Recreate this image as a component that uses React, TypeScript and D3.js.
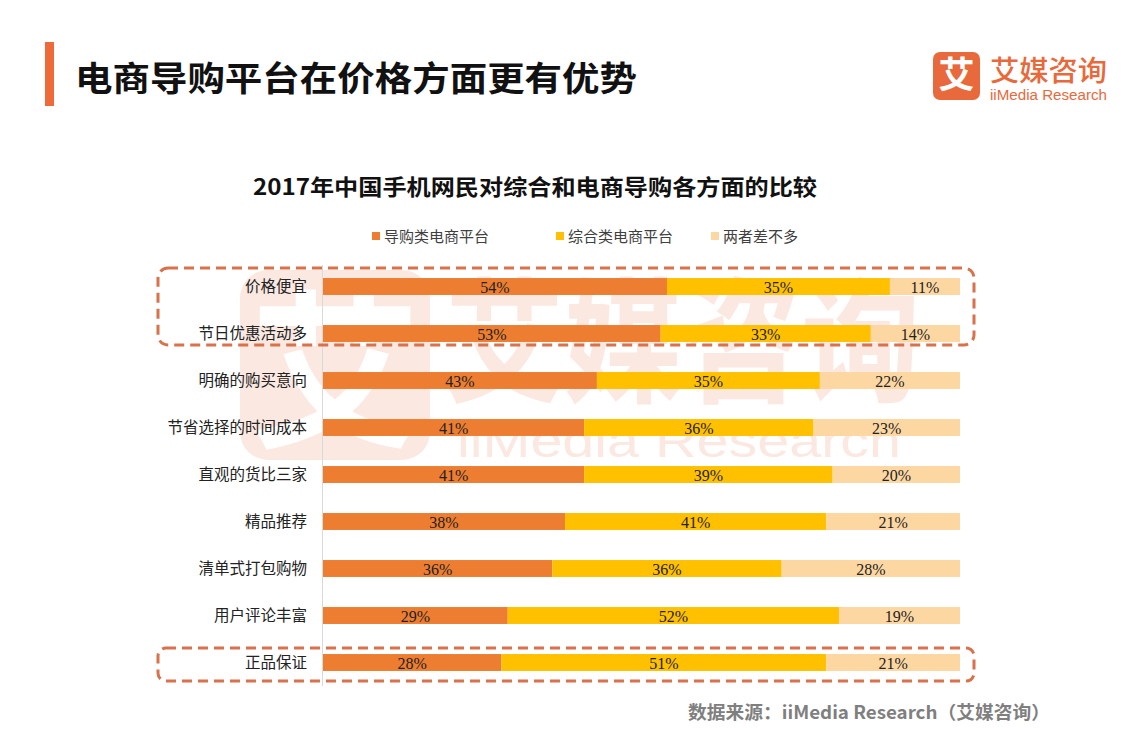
import React from "react";
import * as d3 from "d3";

const categories = ["价格便宜", "节日优惠活动多", "明确的购买意向", "节省选择的时间成本", "直观的货比三家", "精品推荐", "清单式打包购物", "用户评论丰富", "正品保证"];
const seriesNames = ["导购类电商平台", "综合类电商平台", "两者差不多"];
const daogou = [54, 53, 43, 41, 41, 38, 36, 29, 28];
const zonghe = [35, 33, 35, 36, 39, 41, 36, 52, 51];
const chabuduo = [11, 14, 22, 23, 20, 21, 28, 19, 21];
const colors = ["#ED7D31", "#FFC000", "#FDD7A2"];

export default function App() {
  const W = 1133, H = 737;
  const x = d3.scaleLinear().domain([0, 100]).range([323, 960]);
  const y = d3.scaleBand().domain(categories).range([263, 686]).paddingInner(0.64).paddingOuter(0.32);
  const series = [daogou, zonghe, chabuduo];
  const stackData = categories.map((c, i) => ({ c, a: daogou[i], b: zonghe[i], d: chabuduo[i] }));
  const stacked = d3.stack<any>().keys(["a", "b", "d"])(stackData);
  const cjk = "'Noto Sans CJK SC', sans-serif";
  const bh = y.bandwidth();
  const legendX = [372, 556, 711];
  return (
    <div style={{ margin: -8 }}>
      <svg width={W} height={H} style={{ display: "block", background: "#fff" }}>
        {/* watermark */}
        <g opacity={0.15}>
          <rect x={240} y={270} width={190} height={190} rx={28} fill="#E8693C" />
          <text x={335} y={435} textAnchor="middle" fontFamily={cjk} fontWeight={700} fontSize={170} fill="#fff">艾</text>
          <text x={445} y={392} fontFamily={cjk} fontWeight={700} fontSize={135} fill="#E8693C" textLength={475} lengthAdjust="spacingAndGlyphs">艾媒咨询</text>
          <text x={457} y={457} fontSize={46} fontFamily="'Liberation Sans', Arial, sans-serif" fill="#E8693C" textLength={444} lengthAdjust="spacingAndGlyphs">iiMedia Research</text>
        </g>
        {/* header */}
        <rect x={45} y={42} width={9} height={64} fill="#EE6A3A" />
        <text x={75} y={91} fontFamily={cjk} fontWeight={700} fontSize={34} fill="#111" textLength={562} lengthAdjust="spacingAndGlyphs">电商导购平台在价格方面更有优势</text>
        {/* logo */}
        <rect x={933} y={52} width={47} height={48} rx={7} fill="#E8693C" />
        <text x={956.5} y={88} textAnchor="middle" fontFamily={cjk} fontWeight={700} fontSize={36} fill="#fff">艾</text>
        <text x={990} y={81} fontFamily={cjk} fontWeight={500} fontSize={28} fill="#E8693C" textLength={117} lengthAdjust="spacingAndGlyphs">艾媒咨询</text>
        <text x={990} y={100} fontFamily="'Liberation Sans', Arial, sans-serif" fontSize={14} fill="#E8693C" textLength={117} lengthAdjust="spacingAndGlyphs">iiMedia Research</text>
        {/* chart title */}
        <text x={253} y={195} fontFamily={cjk} fontWeight={700} fontSize={22} fill="#111" textLength={564} lengthAdjust="spacingAndGlyphs">2017年中国手机网民对综合和电商导购各方面的比较</text>
        {/* legend */}
        {seriesNames.map((n, i) => (
          <g key={n}>
            <rect x={legendX[i]} y={232} width={8} height={8} fill={colors[i]} />
            <text x={legendX[i] + 12} y={242} fontFamily={cjk} fontSize={15} fill="#404040">{n}</text>
          </g>
        ))}
        {/* axis line */}
        <line x1={322.5} x2={322.5} y1={265} y2={686} stroke="#d9d9d9" />
        {/* bars */}
        {stacked.map((s, si) => (
          <g key={si}>
            {s.map((d, i) => (
              <g key={i}>
                <rect x={x(d[0])} y={y(categories[i])!} width={x(d[1]) - x(d[0])} height={bh} fill={colors[si]} />
                <text x={(x(d[0]) + x(d[1])) / 2} y={y(categories[i])! + bh / 2 + 6} textAnchor="middle" fontFamily="'Liberation Serif', serif" fontSize={16} fill="#222">{series[si][i]}%</text>
              </g>
            ))}
          </g>
        ))}
        {/* category labels */}
        {categories.map((c) => (
          <text key={c} x={307} y={y(c)! + bh / 2 + 5.5} textAnchor="end" fontFamily={cjk} fontSize={15.5} fill="#222">{c}</text>
        ))}
        {/* dashed highlight boxes */}
        <rect x={158} y={268} width={816} height={77} rx={10} fill="none" stroke="#D9714A" strokeWidth={3} strokeDasharray="10 6" />
        <rect x={158} y={648} width={816} height={33} rx={8} fill="none" stroke="#D9714A" strokeWidth={3} strokeDasharray="10 6" />
        {/* source */}
        <text x={688} y={719} fontFamily={cjk} fontWeight={700} fontSize={18} fill="#7f7f7f" textLength={362} lengthAdjust="spacingAndGlyphs">数据来源：iiMedia Research（艾媒咨询）</text>
      </svg>
    </div>
  );
}
